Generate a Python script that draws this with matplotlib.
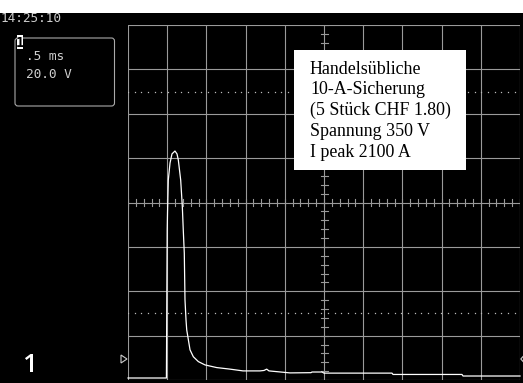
import matplotlib
matplotlib.use("Agg")
import matplotlib.pyplot as plt
import numpy as np
from matplotlib.transforms import Affine2D
from matplotlib.patches import Rectangle, FancyBboxPatch, Polygon

# ---- data (screen units: time in ms, level in V; 0.5 ms/div, 20 V/div) ----
time_ms = [0.00, 0.49, 0.495, 0.50, 0.504, 0.514, 0.536, 0.561, 0.599, 0.625, 0.642,
           0.672, 0.693, 0.705, 0.718, 0.727, 0.740, 0.749, 0.791, 0.833, 0.897,
           0.982, 1.131, 1.301, 1.467, 1.684, 1.735, 1.769, 1.798, 2.066, 2.334,
           2.347, 2.474, 2.500, 3.367, 3.380, 4.260, 4.273, 5.00]
level_v = [-79.1, -79.1, -43.9, -12.4, -4.7, 10.1, 17.8, 21.9, 23.2, 21.9, 19.1,
           10.1, -1.9, -12.4, -22.8, -43.9, -52.9, -57.4, -66.4, -69.5, -71.7,
           -73.2, -74.4, -75.1, -75.9, -75.9, -75.7, -75.1, -75.9, -76.8, -76.7,
           -76.4, -76.4, -76.9, -76.9, -77.5, -77.5, -78.2, -78.2]

timestamp = "14:25:10"
channel = "1"
timebase = ".5 ms"
vscale = "20.0 V"
note_lines = ["Handelsübliche", "10-A-Sicherung", "(5 Stück CHF 1.80)",
              "Spannung 350 V", "I peak 2100 A"]

W, H = 523, 383
fig = plt.figure(figsize=(W / 100, H / 100), dpi=100, facecolor="black")
px = Affine2D().scale(1 / W, -1 / H).translate(0, 1) + fig.transFigure

ax = fig.add_axes([128 / W, 3 / H, 392 / W, 355 / H])
ax.set_facecolor("black")
ax.set_xlim(0, 5)
ax.set_ylim(-80, 80)
for s in ax.spines.values():
    s.set_visible(False)
ax.set_xticks([])
ax.set_yticks([])

gc = "#9a9a9a"
for x in np.arange(0, 5.001, 0.5):
    ax.axvline(x, color=gc, lw=0.8, zorder=1)
for y in np.arange(-80, 80.001, 20):
    ax.axhline(y, color=gc, lw=0.8, zorder=1)

# minor ticks on centre axes
vt = 4 * 20 / 44.4
ht = 3.5 / 78.4
for x in np.arange(0, 5.001, 0.1):
    ax.plot([x, x], [-vt, vt], color=gc, lw=0.8, zorder=1)
for y in np.arange(-80, 80.001, 4):
    ax.plot([2.5 - ht, 2.5 + ht], [y, y], color=gc, lw=0.8, zorder=1)

# dotted level lines
xd = np.arange(0, 5.001, 0.085)
for y in (50, -50):
    ax.plot(xd, np.full_like(xd, y), ls="none", marker="s", ms=0.9,
            mec="none", mfc="#bbbbbb", zorder=1)

ax.plot(time_ms, level_v, color="white", lw=0.9, zorder=5, clip_on=False)

# ---- figure decorations ----
fig.text(0.5, 21.5, timestamp, transform=px, family="DejaVu Sans Mono",
         fontsize=9.2, color="#cccccc", va="baseline")
fig.patches.append(Rectangle((0, 0), W, 13, transform=px, facecolor="white",
                             edgecolor="none", zorder=10))

fig.patches.append(FancyBboxPatch((15, 38), 99.5, 68, transform=px,
                                  boxstyle="round,pad=0,rounding_size=3",
                                  fill=False, edgecolor="#aaaaaa", lw=0.8, zorder=2))
fig.patches.append(Rectangle((16.5, 34.5), 6.5, 14, transform=px, facecolor="white",
                             edgecolor="none", zorder=3))
fig.text(19.8, 47, channel, transform=px, family="DejaVu Sans Mono",
         weight="bold", fontsize=10, color="black", ha="center", va="baseline", zorder=4)
fig.text(26, 60.5, timebase, transform=px, family="DejaVu Sans Mono",
         fontsize=9.2, color="#d0d0d0", va="baseline")
fig.text(26, 78.5, vscale, transform=px, family="DejaVu Sans Mono",
         fontsize=9.2, color="#d0d0d0", va="baseline")

fig.text(22, 371.5, channel, transform=px, family="Open Sans", weight="semibold",
         fontsize=19, color="white", va="baseline")

fig.patches.append(Polygon([(121, 355), (127, 359), (121, 363)], closed=True,
                           transform=px, fill=False, edgecolor="#cccccc", lw=0.8, zorder=3))
fig.patches.append(Polygon([(523.5, 356), (520.8, 359), (523.5, 362)], closed=True,
                           transform=px, fill=False, edgecolor="#cccccc", lw=0.8, zorder=3))

# annotation box
fig.patches.append(Rectangle((294, 50), 172, 120, transform=px, facecolor="white",
                             edgecolor="none", zorder=6))
baselines = [73.5, 94.5, 115.3, 136.0, 156.8]
for line, yb in zip(note_lines, baselines):
    fig.text(310, yb, line, transform=px, family="Liberation Serif",
             fontsize=12.9, color="black", va="baseline", zorder=7)

fig.savefig("out.png", dpi=100, facecolor="black")
